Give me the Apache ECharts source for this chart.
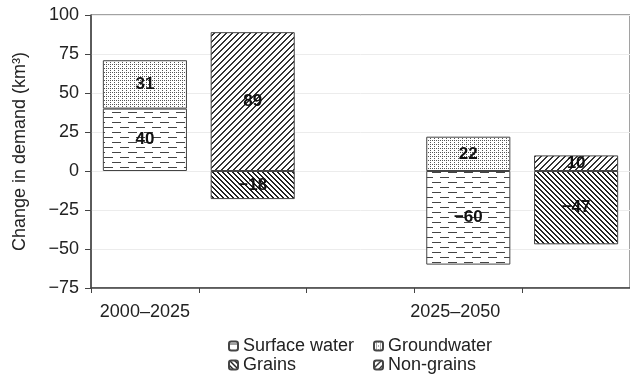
<!DOCTYPE html>
<html>
<head>
<meta charset="utf-8">
<script src="https://cdn.jsdelivr.net/npm/echarts@6/dist/echarts.min.js"></script>
<style>
  html, body { margin: 0; padding: 0; background: #fff; }
  #chart { width: 630px; height: 374px; }
</style>
</head>
<body>
<div id="chart"></div>
<script>
// Category slots along the x axis (each period holds a water stack and a crop stack)
const slots = ['2000–2025', '', '', '2025–2050', ''];
// Change in demand, km³
const surfaceWater = [40, null, null, -60, null];
const groundwater  = [31, null, null, 22, null];
const grains       = [null, -18, null, null, -47];
const nonGrains    = [null, 89, null, null, 10];
const yTicks = { min: -75, max: 100, step: 25 };

const FONT = '"Liberation Sans", Arial, Helvetica, sans-serif';
const minus = v => String(v).replace('-', '\u2212');

// Hatch fills drawn into small repeating canvas tiles
function tile(w, h, paint) {
  const c = document.createElement('canvas');
  c.width = w; c.height = h;
  const ctx = c.getContext('2d');
  ctx.fillStyle = '#fff';
  ctx.fillRect(0, 0, w, h);
  paint(ctx, w, h);
  return { image: c, repeat: 'repeat' };
}
function pixelTile(n, test, color) {
  return tile(n, n, (ctx) => {
    ctx.fillStyle = color;
    for (let y = 0; y < n; y++)
      for (let x = 0; x < n; x++)
        if (test(x, y)) ctx.fillRect(x, y, 1, 1);
  });
}
const dashFill = tile(16, 10, (ctx) => {
  ctx.fillStyle = '#444';
  ctx.fillRect(0, 2, 9, 1);
  ctx.fillRect(8, 7, 8, 1);
  ctx.fillRect(0, 7, 1, 1);
});
const dotFill = pixelTile(4, (x, y) => x % 2 === 0 && y % 2 === 0 && (x + y) % 4 === 0 || (x === 2 && y === 0), '#555');
const backFill = pixelTile(5, (x, y) => ((x - y) % 5 + 5) % 5 < 2, '#222');
const fwdFill = pixelTile(6, (x, y) => (x + y) % 6 < 2, '#333');

function barSeries(name, data, fill) {
  return {
    name, type: 'bar', stack: 'demand', data,
    barWidth: '78%',
    itemStyle: { color: fill, borderColor: '#444', borderWidth: 1 },
    label: {
      show: true, position: 'inside',
      formatter: p => minus(p.value),
      fontFamily: FONT, fontSize: 17, fontWeight: 'bold', color: '#111'
    },
    emphasis: { disabled: true }
  };
}

// One legend box per entry so the two rows line up in columns
function legendItem(name, left, top) {
  return {
    left, top, itemWidth: 9, itemHeight: 9, selectedMode: false,
    data: [name],
    textStyle: { fontFamily: FONT, fontSize: 18, color: '#222' }
  };
}

const chart = echarts.init(document.getElementById('chart'), null, { renderer: 'canvas' });
chart.setOption({
  animation: false,
  backgroundColor: '#fff',
  textStyle: { fontFamily: FONT },
  grid: {
    left: 91, right: -4, top: 15, bottom: 86,
    show: true, borderColor: '#444', borderWidth: 1
  },
  legend: [
    legendItem('Surface water', 223, 332),
    legendItem('Groundwater', 368, 332),
    legendItem('Grains', 223, 351),
    legendItem('Non-grains', 368, 351)
  ],
  xAxis: {
    type: 'category', data: slots,
    axisLine: { onZero: false, lineStyle: { color: '#444', width: 1.5 } },
    axisTick: { show: true, interval: 0, length: 5, lineStyle: { color: '#444' } },
    axisLabel: {
      interval: 0, margin: 15, fontFamily: FONT, fontSize: 18, color: '#222',
      formatter: (v, i) => i === 3 ? '{s|' + v + '}' : v,
      rich: { s: { fontFamily: FONT, fontSize: 18, color: '#222', padding: [0, 26, 0, 0] } }
    },
    splitLine: { show: false }
  },
  yAxis: {
    type: 'value', min: yTicks.min, max: yTicks.max, interval: yTicks.step,
    name: 'Change in demand (km³)', nameLocation: 'middle', nameGap: 62,
    nameTextStyle: { fontFamily: FONT, fontSize: 18, color: '#222' },
    axisLine: { show: true, lineStyle: { color: '#444', width: 1.5 } },
    axisTick: { show: true, length: 6, lineStyle: { color: '#444' } },
    axisLabel: {
      margin: 12, fontFamily: FONT, fontSize: 18, color: '#222',
      formatter: v => minus(v)
    },
    splitLine: { show: true, lineStyle: { color: '#ececec', width: 1 } }
  },
  series: [
    barSeries('Surface water', surfaceWater, dashFill),
    barSeries('Groundwater', groundwater, dotFill),
    barSeries('Grains', grains, backFill),
    barSeries('Non-grains', nonGrains, fwdFill)
  ]
});
</script>
</body>
</html>
